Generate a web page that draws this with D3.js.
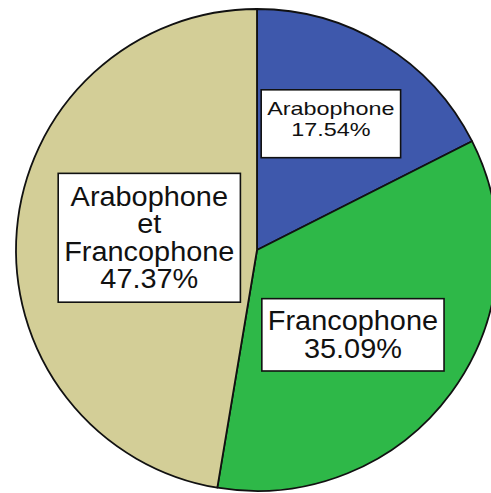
<!DOCTYPE html>
<html>
<head>
<meta charset="utf-8">
<script src="https://cdn.jsdelivr.net/npm/d3@7"></script>
<style>
  body { margin: 0; background: #fff; }
  svg { display: block; }
</style>
</head>
<body>
<div class="pie_chart"></div>
<script>
// data: counts per category (10 / 20 / 27 of 57)
var categories = ["Arabophone", "Francophone", "Arabophone et Francophone"];
var counts = [10, 20, 27];
var labelLines = [
    ["Arabophone"],
    ["Francophone"],
    ["Arabophone", "et", "Francophone"]
];
var sliceColors = ["#3e58ac", "#2eb848", "#d3ce97"];

var width = 491,
    height = 493;

var cx = 257,
    cy = 250,
    radius = 241;

var total = d3.sum(counts);
var pctFormat = function(v) { return d3.format(".2f")(v / total * 100) + "%"; };

var svg = d3.select(".pie_chart")
    .append("svg")
    .attr("width", width)
    .attr("height", height);

var g = svg.append("g")
    .attr("transform", "translate(" + cx + "," + cy + ")");

var color = d3.scaleOrdinal()
    .domain(categories)
    .range(sliceColors);

var pie = d3.pie()
    .sort(null)
    .value(function(d) { return d; });

var arcs = pie(counts);

var arc = d3.arc()
    .innerRadius(0)
    .outerRadius(radius);

g.selectAll("path.slice")
    .data(arcs)
    .enter().append("path")
    .attr("class", "slice")
    .attr("d", arc)
    .style("fill", function(d, i) { return color(categories[i]); })
    .style("stroke", "#111")
    .style("stroke-width", 1.8)
    .style("stroke-linejoin", "round");

// label placement (radius fraction, angle nudge in degrees), font & horizontal stretch
var labelLayout = [
    { rf: 0.625, nudge: -2.2, size: 18, stretch: 1.3, lh: 21, padTop: 12, padBottom: 22 },
    { rf: 0.53, nudge: 5,    size: 27, stretch: 1.07, lh: 28, padTop: 12, padBottom: 13 },
    { rf: 0.45, nudge: 2,    size: 27, stretch: 1.07, lh: 27.5, padTop: 13, padBottom: 14 }
];

var labels = g.selectAll("g.label")
    .data(arcs)
    .enter().append("g")
    .attr("class", "label")
    .attr("transform", function(d, i) {
        var L = labelLayout[i];
        var a = (d.startAngle + d.endAngle) / 2 + L.nudge * Math.PI / 180;
        var r = radius * L.rf;
        return "translate(" + (Math.sin(a) * r) + "," + (-Math.cos(a) * r) + ")";
    });

labels.each(function(d, i) {
    var L = labelLayout[i];
    var sel = d3.select(this);
    var lines = labelLines[i].concat([pctFormat(d.value)]);
    var capH = L.size * 0.716;
    var textH = (lines.length - 1) * L.lh + capH;

    var box = sel.append("rect");
    var txt = sel.append("g")
        .attr("transform", "scale(" + L.stretch + ",1)");

    txt.selectAll("text")
        .data(lines)
        .enter().append("text")
        .attr("x", 0)
        .attr("y", function(t, j) { return -textH / 2 + capH + j * L.lh; })
        .attr("text-anchor", "middle")
        .attr("font-family", "'Liberation Sans', Arial, sans-serif")
        .attr("font-size", L.size)
        .attr("fill", "#111")
        .text(function(t) { return t; });

    var bb = txt.node().getBBox();
    var w = bb.width * L.stretch + 12;
    var top = -textH / 2 - L.padTop;
    var bottom = textH / 2 + L.padBottom;
    box.attr("x", -w / 2)
        .attr("y", top)
        .attr("width", w)
        .attr("height", bottom - top)
        .style("fill", "#fff")
        .style("stroke", "#111")
        .style("stroke-width", 1.6);
});
</script>
</body>
</html>
